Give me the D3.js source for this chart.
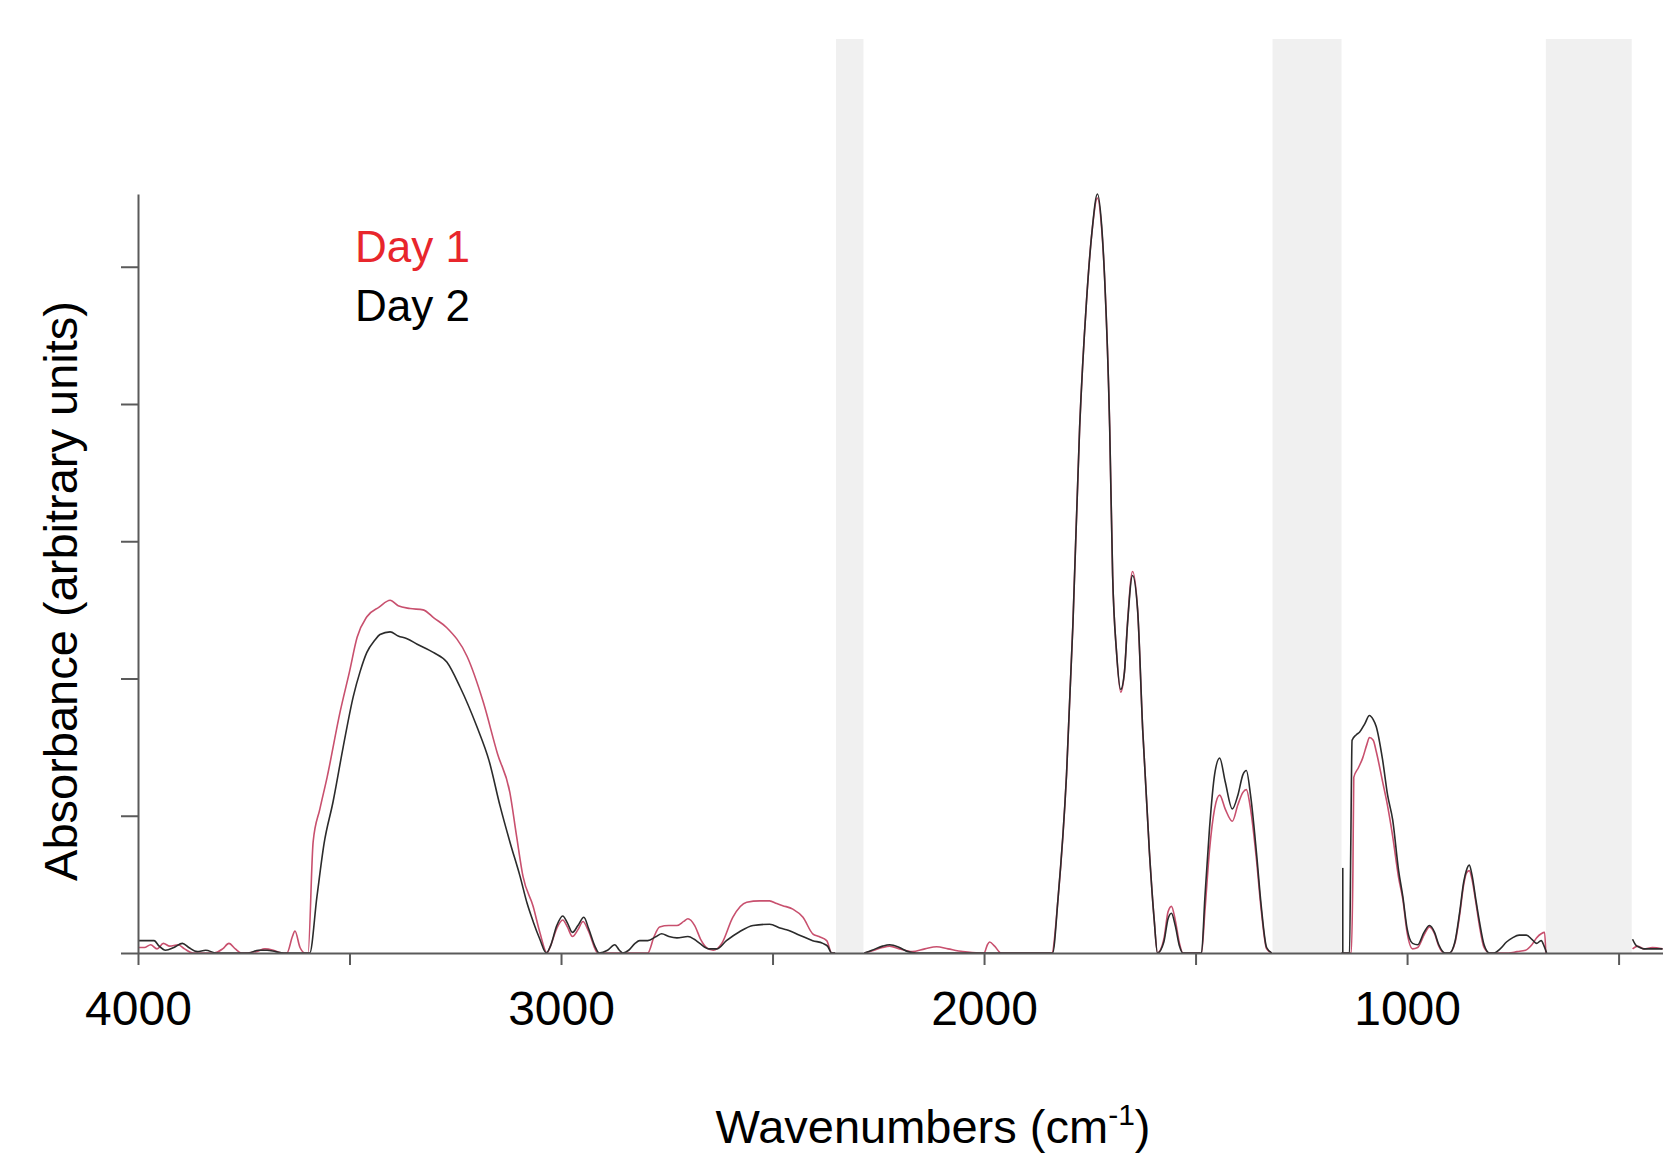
<!DOCTYPE html>
<html>
<head>
<meta charset="utf-8">
<script src="https://cdn.jsdelivr.net/npm/d3@7"></script>
<style>
    body { margin: 0; background: #fff; }
    svg text { font-family: "Liberation Sans", Arial, sans-serif; }
</style>
</head>
<body>
<div id="grafico"></div>
<script>
// bandas excluidas (cm-1)
var bandas = [[2350, 2285], [1318, 1155], [672, 469]];

var ticksX = [4000, 3500, 3000, 2500, 2000, 1500, 1000, 500];
var etiquetasX = [4000, 3000, 2000, 1000];
var ticksY = [0, 1, 2, 3, 4, 5];

var series = ["Day 1", "Day 2"];

// [numero de onda, absorbancia]; null = sin datos
var dia1 = [
    [4000, 0.04], [3985, 0.04], [3970, 0.06], [3955, 0.03], [3940, 0.07], [3925, 0.05], [3905, 0.06],
    [3890, 0.03], [3870, 0], [3850, 0], [3820, 0], [3800, 0.03], [3785, 0.07], [3770, 0.03], [3755, 0],
    [3720, 0.01], [3700, 0.03], [3680, 0.02], [3660, 0], [3648, 0], [3635, 0.12], [3629, 0.16],
    [3617, 0.04], [3605, 0], [3598, 0], [3586, 0.81], [3570, 1.05], [3553, 1.28], [3522, 1.76],
    [3500, 2.05], [3482, 2.30], [3459, 2.45], [3430, 2.52], [3404, 2.57], [3385, 2.53], [3357, 2.51],
    [3326, 2.50], [3300, 2.44], [3270, 2.37], [3222, 2.16], [3184, 1.83], [3150, 1.45], [3121, 1.17],
    [3105, 0.85], [3090, 0.56], [3066, 0.34], [3050, 0.15], [3033, 0], [3025, 0.05], [3010, 0.18],
    [2996, 0.24], [2985, 0.19], [2973, 0.12], [2960, 0.17], [2948, 0.23], [2935, 0.16], [2913, 0],
    [2850, 0], [2795, 0], [2780, 0.12], [2767, 0.19], [2745, 0.20], [2726, 0.20], [2710, 0.23],
    [2700, 0.25], [2684, 0.20], [2670, 0.10], [2656, 0.04], [2640, 0.02], [2620, 0.07], [2594, 0.26],
    [2561, 0.37], [2530, 0.38], [2507, 0.38], [2490, 0.36], [2476, 0.345], [2452, 0.32], [2428, 0.26],
    [2405, 0.14], [2390, 0.12], [2372, 0.09], [2360, 0], [2352, 0], [2320, null],
    [2283, 0], [2260, 0.02], [2240, 0.04], [2223, 0.05], [2200, 0.03], [2170, 0.01], [2140, 0.03],
    [2112, 0.046], [2085, 0.03], [2050, 0.01], [2010, 0], [2000, 0], [1992, 0.06], [1987, 0.08],
    [1975, 0.05], [1960, 0], [1900, 0], [1840, 0], [1825, 0.4], [1805, 1.30], [1790, 2.39],
    [1774, 3.83], [1758, 4.74], [1745, 5.25], [1732, 5.50], [1722, 5.28], [1715, 4.92], [1703, 3.83],
    [1696, 2.75], [1687, 2.20], [1677, 1.90], [1668, 2.05], [1661, 2.40], [1649, 2.78], [1637, 2.50],
    [1625, 1.63], [1609, 0.73], [1598, 0.25], [1590, 0], [1575, 0.10], [1565, 0.30], [1557, 0.34],
    [1548, 0.24], [1538, 0.07], [1530, 0], [1486, 0], [1478, 0.30], [1467, 0.75], [1455, 1.05],
    [1443, 1.15], [1430, 1.05], [1413, 0.96], [1400, 1.08], [1388, 1.17], [1380, 1.19], [1370, 1.05],
    [1356, 0.68], [1345, 0.32], [1332, 0.03], [1320, 0], [1240, null],
    [1155, 0], [1132, 0], [1128, 0.6], [1126, 1.28], [1115, 1.35], [1105, 1.42], [1095, 1.52],
    [1089, 1.57], [1080, 1.55], [1073, 1.47], [1058, 1.25], [1046, 1.07], [1034, 0.85], [1020, 0.55],
    [1010, 0.39], [1000, 0.15], [987, 0.03], [975, 0.04], [960, 0.13], [947, 0.19], [935, 0.14],
    [925, 0.05], [912, 0], [900, 0], [887, 0.07], [876, 0.27], [866, 0.50], [860, 0.58], [853, 0.60],
    [846, 0.53], [838, 0.38], [829, 0.20], [818, 0.04], [805, 0], [760, 0], [740, 0.01], [720, 0.02],
    [705, 0.06], [694, 0.11], [683, 0.14], [675, 0.15], [672, 0], [560, null],
    [467, 0.03], [455, 0.05], [440, 0.03], [420, 0.04], [396, 0.03]
];

var dia2 = [
    [4000, 0.09], [3980, 0.09], [3962, 0.09], [3950, 0.05], [3935, 0.02], [3915, 0.04], [3895, 0.07],
    [3880, 0.04], [3860, 0.01], [3840, 0.02], [3815, 0], [3740, 0], [3715, 0.02], [3695, 0.02],
    [3675, 0.01], [3655, 0], [3594, 0], [3577, 0.41], [3560, 0.80], [3539, 1.10], [3515, 1.50],
    [3491, 1.87], [3475, 2.05], [3459, 2.19], [3440, 2.28], [3428, 2.32], [3404, 2.34], [3385, 2.31],
    [3364, 2.29], [3340, 2.25], [3302, 2.19], [3270, 2.12], [3239, 1.94], [3199, 1.65], [3170, 1.40],
    [3144, 1.07], [3120, 0.80], [3097, 0.56], [3080, 0.36], [3066, 0.23], [3050, 0.10], [3035, 0],
    [3025, 0.05], [3010, 0.20], [2996, 0.27], [2985, 0.22], [2973, 0.15], [2960, 0.20], [2946, 0.26],
    [2935, 0.18], [2920, 0.05], [2910, 0], [2890, 0.02], [2873, 0.06], [2862, 0.02], [2854, 0],
    [2840, 0.02], [2825, 0.07], [2814, 0.09], [2795, 0.09], [2775, 0.12], [2762, 0.14], [2745, 0.12],
    [2726, 0.11], [2700, 0.12], [2685, 0.10], [2672, 0.07], [2650, 0.03], [2632, 0.03], [2609, 0.09],
    [2578, 0.155], [2546, 0.20], [2507, 0.21], [2480, 0.18], [2467, 0.17], [2436, 0.13], [2405, 0.09],
    [2381, 0.07], [2370, 0.05], [2360, 0], [2352, 0], [2320, null],
    [2283, 0], [2265, 0.02], [2240, 0.05], [2223, 0.06], [2200, 0.04], [2180, 0.01], [2160, 0],
    [2000, 0], [1900, 0], [1838, 0], [1825, 0.4], [1805, 1.30], [1790, 2.39], [1774, 3.83],
    [1758, 4.74], [1745, 5.25], [1732, 5.53], [1722, 5.30], [1715, 4.92], [1703, 3.83], [1696, 2.75],
    [1687, 2.20], [1677, 1.92], [1668, 2.05], [1661, 2.39], [1649, 2.75], [1637, 2.50], [1625, 1.63],
    [1609, 0.73], [1598, 0.25], [1590, 0], [1575, 0.08], [1565, 0.25], [1557, 0.29], [1548, 0.20],
    [1538, 0.05], [1530, 0], [1486, 0], [1478, 0.40], [1467, 0.91], [1455, 1.30], [1443, 1.42],
    [1430, 1.25], [1413, 1.05], [1400, 1.15], [1388, 1.30], [1380, 1.33], [1370, 1.15], [1356, 0.73],
    [1345, 0.35], [1332, 0.04], [1320, 0], [1240, null],
    [1155, 0], [1136, 0], [1133, 0.8], [1130, 1.55], [1120, 1.59], [1112, 1.61], [1100, 1.67],
    [1089, 1.73], [1080, 1.70], [1073, 1.65], [1058, 1.41], [1046, 1.15], [1034, 0.97], [1020, 0.60],
    [1010, 0.41], [1000, 0.18], [987, 0.07], [975, 0.06], [960, 0.15], [947, 0.20], [935, 0.15],
    [925, 0.06], [910, 0], [900, 0], [887, 0.08], [876, 0.29], [866, 0.52], [860, 0.60], [853, 0.64],
    [846, 0.56], [838, 0.40], [829, 0.23], [818, 0.06], [805, 0], [795, 0], [780, 0.03], [765, 0.08],
    [751, 0.11], [735, 0.13], [718, 0.13], [705, 0.10], [694, 0.07], [683, 0.09], [676, 0.05],
    [670, 0], [560, null],
    [467, 0.10], [460, 0.06], [450, 0.04], [440, 0.03], [420, 0.03], [396, 0.03]
];

// linea vertical junto a la segunda banda
var pico = [[1152, 0], [1152, 0.62]];

function espectro(id) {
    var w = 1663, h = 1156;
    d3.select("#" + id).html('<svg width="' + w + '" height="' + h + '"></svg>');
    var svg = d3.select("#" + id + ">svg");

    var x = d3.scaleLinear().domain([4000, 395]).range([138, 1663]);
    var y = d3.scaleLinear().domain([0, 5.53]).range([953, 194]);

    // bandas grises
    svg.append("g")
            .selectAll("rect")
            .data(bandas)
            .enter()
            .append("rect")
            .attr("x", function (d) {
                return x(d[0]);
            })
            .attr("width", function (d) {
                return x(d[1]) - x(d[0]);
            })
            .attr("y", 39)
            .attr("height", y(0) - 39)
            .attr("fill", "#f0f0f0");

    var line = d3.line()
            .defined(function (d) {
                return d[1] !== null;
            })
            .curve(d3.curveMonotoneX)
            .x(function (d) {
                return x(d[0]);
            })
            .y(function (d) {
                return y(d[1]);
            });

    svg.append("path")
            .datum(dia1)
            .attr("fill", "none")
            .attr("stroke", "#c8506e")
            .attr("stroke-width", 1.6)
            .attr("stroke-linejoin", "round")
            .attr("d", line);

    svg.append("path")
            .datum(dia2)
            .attr("fill", "none")
            .attr("stroke", "#2b2b2b")
            .attr("stroke-width", 1.6)
            .attr("stroke-linejoin", "round")
            .attr("d", line);

    svg.append("path")
            .datum(pico)
            .attr("fill", "none")
            .attr("stroke", "#2b2b2b")
            .attr("stroke-width", 1.6)
            .attr("d", d3.line()
                    .x(function (d) {
                        return x(d[0]);
                    })
                    .y(function (d) {
                        return y(d[1]);
                    }));

    // ejes
    var ejeX = svg.append("g")
            .attr("transform", "translate(0," + y(0) + ")")
            .call(d3.axisBottom(x)
                    .tickValues(ticksX)
                    .tickSize(12)
                    .tickSizeOuter(0)
                    .tickFormat(function (d) {
                        return etiquetasX.indexOf(d) >= 0 ? d : "";
                    }));
    ejeX.selectAll("path, line").attr("stroke", "#5a5a5a").attr("stroke-width", 2);
    ejeX.selectAll("text")
            .attr("y", 72)
            .attr("dy", 0)
            .attr("fill", "#000")
            .style("font-size", "48px")
            .style("font-family", "'Liberation Sans', Arial, sans-serif");

    var ejeY = svg.append("g")
            .attr("transform", "translate(" + x(4000) + ",0)")
            .call(d3.axisLeft(y)
                    .tickValues(ticksY)
                    .tickSize(17)
                    .tickSizeOuter(0)
                    .tickFormat(""));
    ejeY.selectAll("path, line").attr("stroke", "#5a5a5a").attr("stroke-width", 2);

    // titulos
    svg.append("text")
            .attr("transform", "translate(77,591) rotate(-90)")
            .attr("text-anchor", "middle")
            .attr("fill", "#000")
            .style("font-size", "47px")
            .text("Absorbance (arbitrary units)");

    var tx = svg.append("text")
            .attr("x", 933)
            .attr("y", 1143)
            .attr("text-anchor", "middle")
            .attr("fill", "#000")
            .style("font-size", "47px");
    tx.append("tspan").text("Wavenumbers (cm");
    tx.append("tspan").attr("dy", -18).style("font-size", "30px").text("-1");
    tx.append("tspan").attr("dy", 18).text(")");

    // leyenda
    svg.append("g")
            .selectAll("text")
            .data(series)
            .enter()
            .append("text")
            .attr("x", 355)
            .attr("y", function (d, i) {
                return 262 + i * 59;
            })
            .attr("fill", function (d, i) {
                return i === 0 ? "#e8262c" : "#000";
            })
            .style("font-size", "44px")
            .text(function (d) {
                return d;
            });
}

espectro("grafico");
</script>
</body>
</html>
